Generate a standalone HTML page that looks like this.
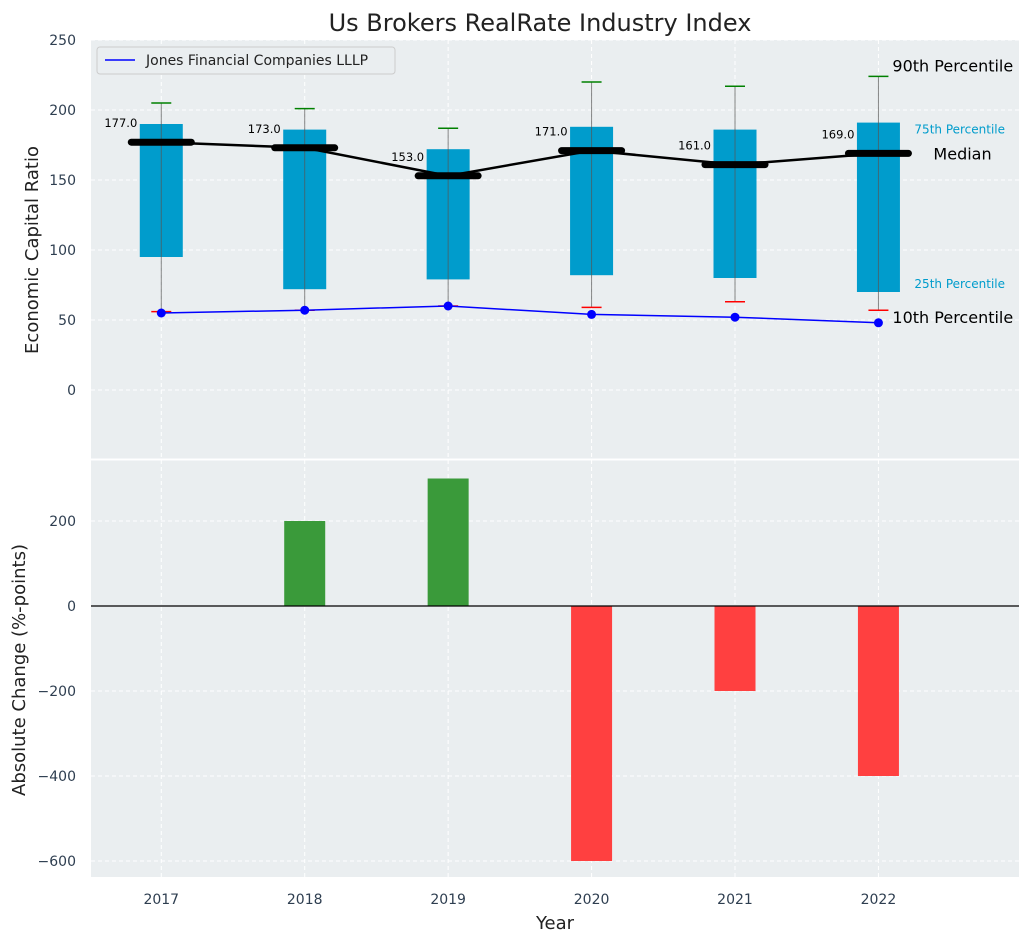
<!DOCTYPE html>
<html><head><meta charset="utf-8"><style>
body{margin:0;background:#fff;font-family:"DejaVu Sans","Liberation Sans",sans-serif}
svg text{font-family:"DejaVu Sans","Liberation Sans",sans-serif}
</style></head><body>
<svg id="c" width="1029" height="942" xmlns="http://www.w3.org/2000/svg"></svg>
<script>
const years=[2017,2018,2019,2020,2021,2022];
const q1=[95,72,79,82,80,70];
const q3=[190,186,172,188,186,191];
const med=[177,173,153,171,161,169];
const p10=[56,57,60,59,63,57];
const p90=[205,201,187,220,217,224];
const jones=[55,57,60,54,52,48];
const change=[0,200,300,-600,-200,-400];
const topTicks=[0,50,100,150,200,250];
const botTicks=[-600,-400,-200,0,200];
const NS="http://www.w3.org/2000/svg";
const svg=document.getElementById('c');
function el(t,a,txt){const e=document.createElementNS(NS,t);for(const k in a)e.setAttribute(k,a[k]);if(txt!==undefined)e.textContent=txt;svg.appendChild(e);return e;}
const X0=91,X1=1019;
const xs=y=>X0+(y-2016.51)/(2022.98-2016.51)*(X1-X0);
const ty=v=>390-v*1.4;
const by=v=>606-v*0.425;
let e=el('rect',{x:X0,y:40,width:X1-X0,height:420,fill:'#eaeef0'});

e=el('rect',{x:X0,y:460,width:X1-X0,height:417,fill:'#eaeef0'});

el('line',{x1:X0,x2:X1,y1:459.5,y2:459.5,stroke:'#fff','stroke-width':2});
years.forEach(y=>{el('line',{x1:xs(y),x2:xs(y),y1:40,y2:460,stroke:'#fff','stroke-dasharray':'4,3'});el('line',{x1:xs(y),x2:xs(y),y1:460,y2:877,stroke:'#fff','stroke-dasharray':'4,3'});
e=el('text',{x:xs(y),y:904,'text-anchor':'middle','font-size':14,fill:'#2e3e50'},y);
});
topTicks.forEach(t=>{el('line',{x1:X0,x2:X1,y1:ty(t),y2:ty(t),stroke:'#fff','stroke-dasharray':'4,3'});
e=el('text',{x:76,y:ty(t)+5,'text-anchor':'end','font-size':14,fill:'#2e3e50'},t);
});
botTicks.forEach(t=>{el('line',{x1:X0,x2:X1,y1:by(t),y2:by(t),stroke:'#fff','stroke-dasharray':'4,3'});
e=el('text',{x:76,y:by(t)+5,'text-anchor':'end','font-size':14,fill:'#2e3e50'},String(t).replace('-','−'));
});
years.forEach((y,i)=>{const x=xs(y);
e=el('rect',{x:x-21.5,y:ty(q3[i]),width:43,height:ty(q1[i])-ty(q3[i]),fill:'#009ccc'});

el('line',{x1:x,x2:x,y1:ty(p90[i]),y2:ty(p10[i]),stroke:'#555','stroke-width':1,opacity:0.7});
e=el('line',{x1:x-10,x2:x+10,y1:ty(p90[i]),y2:ty(p90[i]),stroke:'green','stroke-width':1.5});

e=el('line',{x1:x-10,x2:x+10,y1:ty(p10[i]),y2:ty(p10[i]),stroke:'red','stroke-width':1.5});

});
e=el('polyline',{points:years.map((y,i)=>xs(y)+','+ty(med[i])).join(' '),fill:'none',stroke:'#000','stroke-width':2.5});

years.forEach((y,i)=>{const x=xs(y);
e=el('line',{x1:x-30,x2:x+30,y1:ty(med[i]),y2:ty(med[i]),stroke:'#000','stroke-width':7,'stroke-linecap':'round'});

e=el('text',{x:x-24,y:ty(med[i])-15,'text-anchor':'end','font-size':11.5,fill:'#000'},med[i].toFixed(1));
});
e=el('polyline',{points:years.map((y,i)=>xs(y)+','+ty(jones[i])).join(' '),fill:'none',stroke:'blue','stroke-width':1.5});

years.forEach((y,i)=>{e=el('circle',{cx:xs(y),cy:ty(jones[i]),r:4.5,fill:'blue'});
});
const lx=xs(2022);
el('text',{x:lx+14,y:ty(p90[5])-5,'font-size':16,fill:'#000'},'90th Percentile');
el('text',{x:lx+36,y:ty(q3[5])+11,'font-size':12,fill:'#009ccc'},'75th Percentile');
el('text',{x:lx+55,y:ty(med[5])+6,'font-size':16,fill:'#000'},'Median');
el('text',{x:lx+36,y:ty(q1[5])-4,'font-size':12,fill:'#009ccc'},'25th Percentile');
el('text',{x:lx+14,y:ty(jones[5]),'font-size':16,fill:'#000'},'10th Percentile');
years.forEach((y,i)=>{const v=change[i];if(v===0)return;
e=el('rect',{x:xs(y)-20.5,y:Math.min(by(v),by(0)),width:41,height:Math.abs(by(v)-by(0)),fill:v>0?'#3a9a3a':'#ff4040'});
});
el('line',{x1:X0,x2:X1,y1:by(0),y2:by(0),stroke:'#000','stroke-width':1.2});
e=el('rect',{x:97,y:47,width:298,height:27,fill:'#eaeef0',stroke:'#ccc',rx:3});

el('line',{x1:105,x2:135,y1:60,y2:60,stroke:'blue','stroke-width':1.5});
el('text',{x:146,y:65,'font-size':14,fill:'#222'},'Jones Financial Companies LLLP');
el('text',{x:540,y:31,'text-anchor':'middle','font-size':24,fill:'#222'},'Us Brokers RealRate Industry Index');
el('text',{x:555,y:929,'text-anchor':'middle','font-size':18,fill:'#222'},'Year');
el('text',{x:0,y:0,'text-anchor':'middle','font-size':18,fill:'#222',transform:'translate(38,250) rotate(-90)'},'Economic Capital Ratio');
el('text',{x:0,y:0,'text-anchor':'middle','font-size':18,fill:'#222',transform:'translate(25,670) rotate(-90)'},'Absolute Change (%-points)');
</script>
</body></html>
